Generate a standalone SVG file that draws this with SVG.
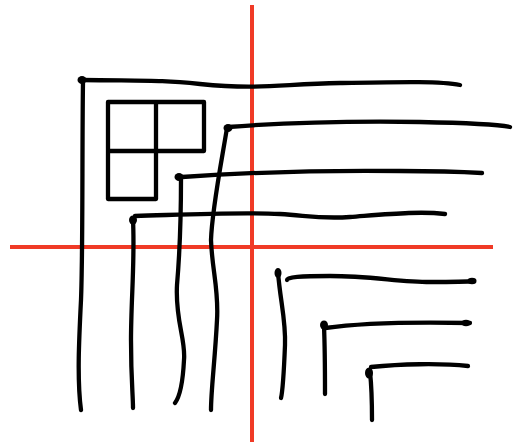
<svg xmlns="http://www.w3.org/2000/svg" width="529" height="442" viewBox="0 0 529 442">
<style>
.k{fill:none;stroke:#000;stroke-width:4.3;stroke-linecap:round;stroke-linejoin:round}
.r{fill:none;stroke:#f03a26;stroke-width:4}
.d{fill:#000}
</style>
<rect width="529" height="442" fill="#fff"/>
<g id="axes">
<path class="r" d="M252 5 L252 442"/>
<path class="r" d="M10 247 L493 247"/>
</g>
<g id="grid">
<path class="k" d="M108 102 H204 V151 H108 Z M156 102 V199 M108 151 V199 H156"/>
</g>
<g id="L1">
<path class="k" d="M82 80 C150 81 160 80 200 84 C260 90 280 84 340 83 C400 82 440 81 460 85"/>
<path class="k" d="M83 82 C82 150 83 250 81 300 C79 340 77 380 81 410"/>
<ellipse class="d" cx="82" cy="80" rx="4.5" ry="4"/>
</g>
<g id="L2">
<path class="k" d="M135 216 C200 214 240 212 280 214 C310 216 320 219 350 217 C390 214 420 211 445 214"/>
<path class="k" d="M133 220 C135 260 131 300 131 340 C131 380 133 395 133 408"/>
<ellipse class="d" cx="133" cy="220" rx="4" ry="4.5"/>
</g>
<g id="L3">
<path class="k" d="M182 177 C240 173 320 170 400 171 C440 171 465 172 482 173"/>
<path class="k" d="M181 178 C181 220 180 250 177 285 C175 320 186 340 184 360 C183 380 181 395 175 403"/>
<ellipse class="d" cx="179" cy="177" rx="4.5" ry="4"/>
</g>
<g id="L4">
<path class="k" d="M228 127 C280 123 350 121 420 122 C470 123 495 124 510 127"/>
<path class="k" d="M227 128 C220 170 212 210 211 240 C212 270 219 290 217 320 C215 360 211 390 211 410"/>
<ellipse class="d" cx="228" cy="128" rx="4.5" ry="4"/>
</g>
<g id="L5">
<path class="k" d="M287 280 C287 277 300 276 330 276 C370 276 400 282 430 282 C455 282 465 282 474 281"/>
<path class="k" d="M278 272 C280 300 286 320 285 345 C284 370 283 390 281 398"/>
<ellipse class="d" cx="278" cy="273" rx="3.5" ry="5"/>
<ellipse class="d" cx="472" cy="281" rx="4.5" ry="3.2"/>
</g>
<g id="L6">
<path class="k" d="M325 328 C360 323 420 322 470 323"/>
<path class="k" d="M324 326 C325 350 325 375 325 394"/>
<ellipse class="d" cx="324" cy="325" rx="4" ry="4.5"/>
<ellipse class="d" cx="466" cy="323" rx="5" ry="3.2"/>
</g>
<g id="L7">
<path class="k" d="M371 367 C400 364 440 363 468 366"/>
<path class="k" d="M370 372 C372 390 372 405 372 420"/>
<ellipse class="d" cx="369" cy="373" rx="4" ry="5.5"/>
</g>
</svg>
